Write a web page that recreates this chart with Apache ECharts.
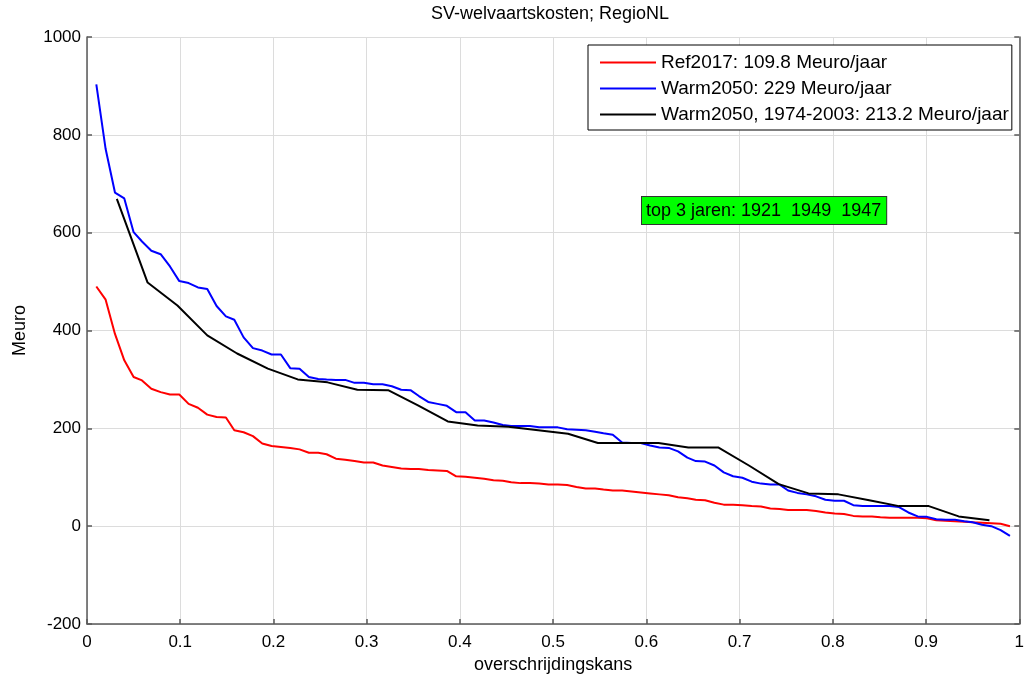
<!DOCTYPE html>
<html>
<head>
<meta charset="utf-8">
<script src="https://cdn.jsdelivr.net/npm/echarts@6/dist/echarts.min.js"></script>
<style>
  html, body { margin: 0; padding: 0; background: #fff; }
  #chart { width: 1027px; height: 679px; }
</style>
</head>
<body>
<div id="chart"></div>
<script>
// Exceedance probability (x) for the 100-year series (rank / 101)
const probFull = [0.010,0.020,0.030,0.040,0.050,0.059,0.069,0.079,0.089,0.099,
  0.109,0.119,0.129,0.139,0.149,0.158,0.168,0.178,0.188,0.198,
  0.208,0.218,0.228,0.238,0.248,0.257,0.267,0.277,0.287,0.297,
  0.307,0.317,0.327,0.337,0.347,0.356,0.366,0.376,0.386,0.396,
  0.406,0.416,0.426,0.436,0.446,0.455,0.465,0.475,0.485,0.495,
  0.505,0.515,0.525,0.535,0.545,0.554,0.564,0.574,0.584,0.594,
  0.604,0.614,0.624,0.634,0.644,0.653,0.663,0.673,0.683,0.693,
  0.703,0.713,0.723,0.733,0.743,0.752,0.762,0.772,0.782,0.792,
  0.802,0.812,0.822,0.832,0.842,0.851,0.861,0.871,0.881,0.891,
  0.901,0.911,0.921,0.931,0.941,0.950,0.960,0.970,0.980,0.990];

// Exceedance probability for the 30-year series 1974-2003 (rank / 31)
const prob30 = [0.032,0.065,0.097,0.129,0.161,0.194,0.226,0.258,0.290,0.323,
  0.355,0.387,0.419,0.452,0.484,0.516,0.548,0.581,0.613,0.645,
  0.677,0.710,0.742,0.774,0.806,0.839,0.871,0.903,0.935,0.968];

// Ref2017 (Meuro)
const ref2017 = [490,463,393,339,305,298,281,274,269,269,
  250,242,228,223,222,196,192,184,169,164,
  162,160,157,150,150,147,138,136,133,130,
  130,124,121,118,117,117,115,114,113,102,
  101,99,97,94,93,90,88,88,87,85,
  85,84,80,77,77,75,73,73,71,69,
  67,65,63,59,57,54,53,48,44,44,
  43,41,40,36,35,33,33,33,31,28,
  26,25,21,20,20,18,17,17,17,17,
  16,12,11,10,9,8,7,6,5,0];

// Warm2050 (Meuro)
const warm2050 = [903,771,682,670,601,582,563,556,531,501,
  497,488,485,450,429,422,386,364,359,351,
  351,323,322,305,301,300,299,299,293,293,
  290,290,286,279,278,266,254,250,246,233,
  233,216,216,212,207,205,205,205,202,202,
  202,198,197,196,193,190,187,171,170,170,
  165,161,160,153,140,133,132,124,110,102,
  99,91,87,85,85,73,68,65,61,54,
  52,52,43,41,41,41,41,39,28,20,
  19,14,13,13,10,8,3,0,-8,-20];

// Warm2050, 1974-2003 (Meuro)
const warm2050p = [669,498,451,390,353,322,300,294,279,278,
  247,214,206,203,196,189,170,170,170,161,
  161,124,86,67,65,53,41,41,20,12];

const seriesNames = ['Ref2017: 109.8 Meuro/jaar', 'Warm2050: 229 Meuro/jaar', 'Warm2050, 1974-2003: 213.2 Meuro/jaar'];
const seriesColors = ['#ff0000', '#0000ff', '#000000'];
const titleText = 'SV-welvaartskosten; RegioNL';
const xName = 'overschrijdingskans';
const yName = 'Meuro';
const noteText = 'top 3 jaren: 1921  1949  1947';

const FONT = '"Liberation Sans", Arial, sans-serif';
const pair = (xs, ys) => xs.map((x, i) => [x, ys[i]]);

const chart = echarts.init(document.getElementById('chart'), null, { renderer: 'canvas' });

const axisLineStyle = { color: '#5a5a5a', width: 1.5 };

chart.setOption({
  animation: false,
  backgroundColor: '#ffffff',
  grid: { left: 87, right: 7, top: 37, bottom: 55, containLabel: false },
  xAxis: {
    type: 'value', min: 0, max: 1, interval: 0.1,
    name: xName, nameLocation: 'middle', nameGap: 30,
    nameTextStyle: { fontFamily: FONT, fontSize: 18, color: '#000' },
    axisLine: { show: true, onZero: false, lineStyle: axisLineStyle },
    axisTick: { show: true, inside: true, length: 5, lineStyle: axisLineStyle },
    axisLabel: { fontFamily: FONT, fontSize: 17, color: '#000', margin: 10 },
    splitLine: { show: true, lineStyle: { color: '#dcdcdc', width: 1 } }
  },
  yAxis: [{
    type: 'value', min: -200, max: 1000, interval: 200,
    name: yName, nameLocation: 'middle', nameGap: 58, nameRotate: 90,
    nameTextStyle: { fontFamily: FONT, fontSize: 18, color: '#000' },
    axisLine: { show: true, onZero: false, lineStyle: axisLineStyle },
    axisTick: { show: true, inside: true, length: 5, lineStyle: axisLineStyle },
    axisLabel: { fontFamily: FONT, fontSize: 17, color: '#000', margin: 6, formatter: v => String(v) },
    splitLine: { show: true, lineStyle: { color: '#dcdcdc', width: 1 } }
  }, {
    type: 'value', min: -200, max: 1000, interval: 200, position: 'right',
    axisLine: { show: true, onZero: false, lineStyle: axisLineStyle },
    axisTick: { show: true, inside: true, length: 5, lineStyle: axisLineStyle },
    axisLabel: { show: false },
    splitLine: { show: false }
  }],
  legend: {
    orient: 'vertical', left: 588, top: 45,
    padding: [8, 3, 6, 12], itemGap: 7,
    itemWidth: 56, itemHeight: 2, icon: 'rect',
    backgroundColor: '#ffffff', borderColor: '#000000', borderWidth: 1, borderRadius: 0,
    textStyle: { fontFamily: FONT, fontSize: 19, color: '#000', lineHeight: 18 },
    data: seriesNames
  },
  graphic: [{
    type: 'text', x: 550, y: 14, z: 10,
    style: { text: titleText, font: '18px ' + FONT, fill: '#000', textAlign: 'center', textVerticalAlign: 'middle' }
  }, {
    type: 'text', x: 642, y: 197, z: 10,
    style: {
      text: noteText, font: '18px ' + FONT, fill: '#000',
      backgroundColor: '#00ff00', borderColor: '#333333', borderWidth: 1,
      padding: [5, 5, 4, 4]
    }
  }],
  series: [
    { name: seriesNames[0], type: 'line', data: pair(probFull, ref2017), showSymbol: false, symbol: 'none',
      lineStyle: { color: seriesColors[0], width: 2 }, itemStyle: { color: seriesColors[0] }, z: 3 },
    { name: seriesNames[1], type: 'line', data: pair(probFull, warm2050), showSymbol: false, symbol: 'none',
      lineStyle: { color: seriesColors[1], width: 2 }, itemStyle: { color: seriesColors[1] }, z: 4 },
    { name: seriesNames[2], type: 'line', data: pair(prob30, warm2050p), showSymbol: false, symbol: 'none',
      lineStyle: { color: seriesColors[2], width: 2 }, itemStyle: { color: seriesColors[2] }, z: 5 }
  ]
});
</script>
</body>
</html>
